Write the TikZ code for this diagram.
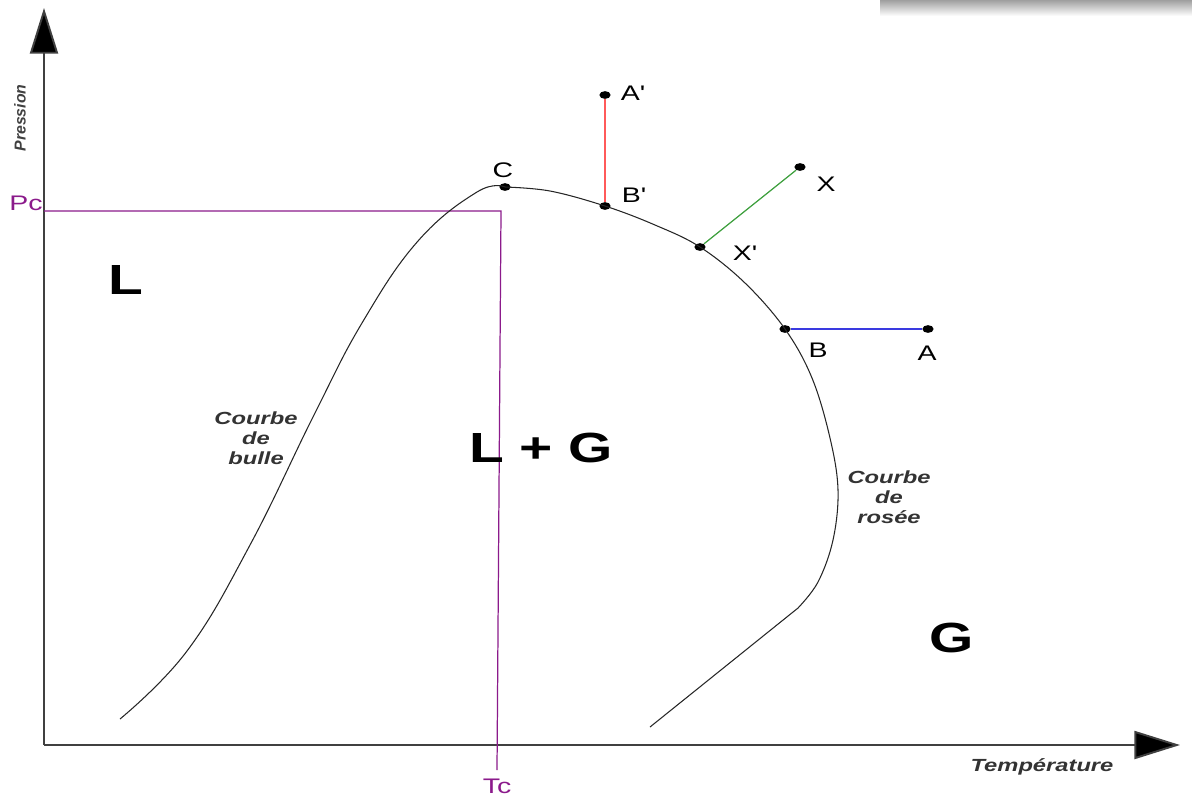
\documentclass[tikz,border=0pt]{standalone}
\usepackage{fontspec}
\setmainfont{Liberation Sans}
\newfontfamily\widesf{Liberation Sans}[FakeStretch=1.35]
\usetikzlibrary{arrows.meta,shapes.geometric}
\definecolor{crit}{HTML}{8B1A8B}
\definecolor{isoT}{HTML}{FF5A5A}
\definecolor{isoP}{HTML}{3A3AE0}
\definecolor{mixd}{HTML}{3FA03F}
\definecolor{axe}{HTML}{404040}

\tikzset{
  pt/.style={ellipse, fill=black, inner sep=0pt, minimum width=6.4pt, minimum height=4.4pt},
  lbl/.style={font=\widesf\fontsize{12}{14}\selectfont},
  phase/.style={font=\widesf\fontsize{24}{28}\selectfont\bfseries},
  courbe/.style={font=\widesf\fontsize{10}{11.5}\selectfont\itshape\bfseries, text=black!80, align=center},
  axis/.style={axe, line width=1.1pt, -{Triangle[length=26pt,width=16pt,fill=black]}}
}

\begin{document}
\begin{tikzpicture}[x=0.02cm, y=-0.02cm]
  \useasboundingbox (0,0) rectangle (1192,796);
  \shade[top color=gray!75, bottom color=white] (880,0) rectangle (1192,16);

  % Axes
  \coordinate (O) at (44,745);
  \draw[axis] (O) -- (44,8);
  \draw[axis] (O) -- (1180,745);
  \node[rotate=90, font=\fontsize{9}{11}\selectfont\itshape\bfseries, text=black!75] (pres) at (20,118) {Pression};
  \node[font=\widesf\fontsize{10}{12}\selectfont\itshape\bfseries, text=black!80] (temp) at (1042,767) {Température};

  % Critical point lines
  \coordinate (pc) at (44,211);
  \coordinate (pk) at (501,211);
  \coordinate (tc) at (497,770);
  \draw[crit, line width=0.7pt] (pc) -- (pk) -- (tc);
  \node[crit, font=\widesf\fontsize{12}{14}\selectfont] (Pc) at (26,203) {Pc};
  \node[crit, font=\widesf\fontsize{12}{14}\selectfont] (Tc) at (497,786) {Tc};

  % Points on the envelope
  \node[pt] (C) at (505,187) {};
  \node[pt] (Bp) at (605,206) {};
  \node[pt] (Xp) at (700,247) {};
  \node[pt] (B) at (785,329) {};
  \node[pt] (Ap) at (605,95) {};
  \node[pt] (X) at (800,167) {};
  \node[pt] (A) at (928,329) {};

  % Bubble curve
  \draw[black!85, line width=0.6pt] plot[smooth, tension=0.7] coordinates {(120,719) (187,651) (250,545) (313,417) (362,323) (418,241) (477,192) (C.center)};

  % Dew curve
  \draw[black!85, line width=0.6pt] plot[smooth, tension=0.6] coordinates {(C.center) (550,191) (Bp.center) (655,225) (Xp.center) (745,283) (B.center) (812,378) (830,438) (838,490) (833,540) (818,582) (798,608)} -- (650,727);

  % Paths
  \draw[isoT, line width=0.8pt] (Ap) -- (Bp);
  \draw[mixd, line width=0.7pt] (X) -- (Xp);
  \draw[isoP, line width=0.8pt] (B) -- (A);

  % Labels
  \node[lbl] (lC) at (503,170) {C};
  \node[lbl] (lAp) at (633,93) {A'};
  \node[lbl] (lBp) at (634,195) {B'};
  \node[lbl] (lX) at (826,184) {X};
  \node[lbl] (lXp) at (745,253) {X'};
  \node[lbl] (lB) at (818,350) {B};
  \node[lbl] (lA) at (927,353) {A};

  \node[phase] (L) at (126,280) {L};
  \node[phase] (LG) at (541,448) {L + G};
  \node[phase] (G) at (952,638) {G};

  \node[courbe] (bulle) at (256,438) {Courbe\\de\\bulle};
  \node[courbe] (rosee) at (889,497) {Courbe\\de\\rosée};
\end{tikzpicture}
\end{document}
